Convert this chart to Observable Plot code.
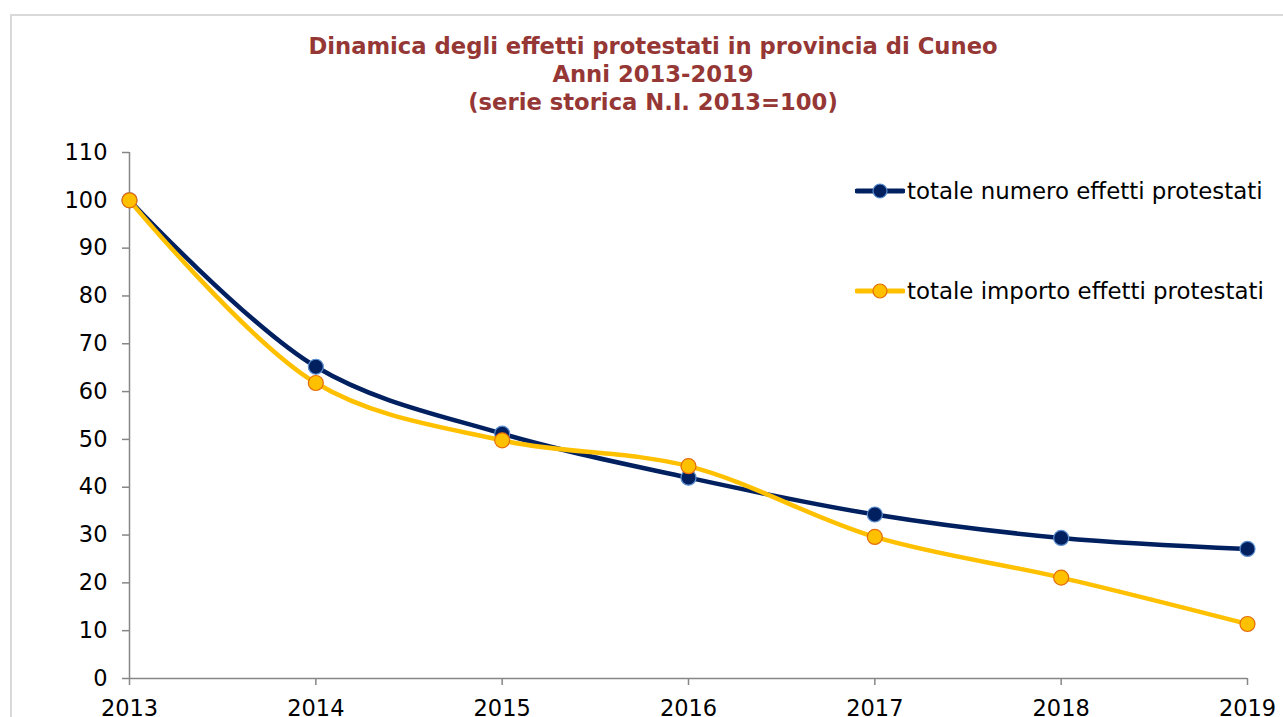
<!DOCTYPE html>
<html>
<head>
<meta charset="utf-8">
<script src="https://cdn.jsdelivr.net/npm/d3@7"></script>
<script src="https://cdn.jsdelivr.net/npm/@observablehq/plot@0.6"></script>
<style>
  html, body { margin: 0; padding: 0; background: #fff; overflow: hidden; }
  body { width: 1283px; height: 717px; position: relative; font-family: "DejaVu Sans", Verdana, sans-serif; }
  #frame { position: absolute; left: 10px; top: 14px; width: 1400px; height: 800px; border-left: 2px solid #d9d9d9; border-top: 2px solid #d9d9d9; }
  #chart { position: absolute; left: 0; top: 0; }
  #title { position: absolute; left: 253px; width: 800px; top: 32px; text-align: center; color: #953735; font-weight: bold; font-size: 22.7px; line-height: 28px; }
  .leg { position: absolute; left: 855px; font-size: 22.9px; color: #000; display: flex; align-items: center; white-space: nowrap; }
  .leg svg { margin-right: 2px; }
</style>
</head>
<body>
<div id="frame"></div>
<div id="chart"></div>
<div id="title"></div>
<div id="legend"></div>
<script>
const titleLines = ["Dinamica degli effetti protestati in provincia di Cuneo", "Anni 2013-2019", "(serie storica N.I. 2013=100)"];
const years = [2013, 2014, 2015, 2016, 2017, 2018, 2019];
const numero = [100, 65.2, 51.2, 42.0, 34.3, 29.4, 27.1];
const importo = [100, 61.8, 49.8, 44.4, 29.6, 21.1, 11.4];
const seriesNames = ["totale numero effetti protestati", "totale importo effetti protestati"];
const yTicks = [0, 10, 20, 30, 40, 50, 60, 70, 80, 90, 100, 110];

const colors = {
  numero: { line: "#002060", fill: "#002060", stroke: "#5b8fd0" },
  importo: { line: "#FFC000", fill: "#FFC000", stroke: "#E46C0A" }
};

const dNum = years.map((y, i) => ({ year: y, value: numero[i] }));
const dImp = years.map((y, i) => ({ year: y, value: importo[i] }));

document.getElementById("title").innerHTML = titleLines.map(t => `<div>${t}</div>`).join("");

const axisColor = "#868686";
const plot = Plot.plot({
  width: 1283,
  height: 717,
  marginLeft: 129,
  marginRight: 36,
  marginTop: 152,
  marginBottom: 39,
  style: { fontFamily: "DejaVu Sans, Verdana, sans-serif", fontSize: "22.5px", color: "#000", background: "transparent", overflow: "visible" },
  x: { domain: [2013, 2019], ticks: years, tickFormat: d => String(d) },
  y: { domain: [0, 110], ticks: yTicks },
  marks: [
    Plot.axisX({ ticks: years, tickFormat: d => String(d), tickSize: 7, tickPadding: 15, stroke: axisColor, strokeWidth: 1.5, fill: "#000", fontSize: 22.5, label: null }),
    Plot.axisY({ ticks: yTicks, tickSize: 7, tickPadding: 15, stroke: axisColor, strokeWidth: 1.5, fill: "#000", fontSize: 22.5, label: null }),
    Plot.ruleX([2013], { y1: 0, y2: 110, stroke: axisColor, strokeWidth: 1.5 }),
    Plot.ruleY([0], { stroke: axisColor, strokeWidth: 1.5 }),
    Plot.line(dNum, { x: "year", y: "value", stroke: colors.numero.line, strokeWidth: 4.5, curve: "catmull-rom" }),
    Plot.dot(dNum, { x: "year", y: "value", r: 7.5, fill: colors.numero.fill, stroke: colors.numero.stroke, strokeWidth: 1.2 }),
    Plot.line(dImp, { x: "year", y: "value", stroke: colors.importo.line, strokeWidth: 4.5, curve: "catmull-rom" }),
    Plot.dot(dImp, { x: "year", y: "value", r: 7.5, fill: colors.importo.fill, stroke: colors.importo.stroke, strokeWidth: 1.2 })
  ]
});
document.getElementById("chart").appendChild(plot);

const legendItems = [
  { name: seriesNames[0], c: colors.numero, top: 177 },
  { name: seriesNames[1], c: colors.importo, top: 277 }
];
document.getElementById("legend").innerHTML = legendItems.map(it => `
  <div class="leg" style="top:${it.top}px;height:28px;">
    <svg width="50" height="20" viewBox="0 0 50 20">
      <line x1="2" y1="10" x2="48" y2="10" stroke="${it.c.line}" stroke-width="5" stroke-linecap="round"/>
      <circle cx="25" cy="10" r="7" fill="${it.c.fill}" stroke="${it.c.stroke}" stroke-width="1.2"/>
    </svg>
    <span>${it.name}</span>
  </div>`).join("");
</script>
</body>
</html>
